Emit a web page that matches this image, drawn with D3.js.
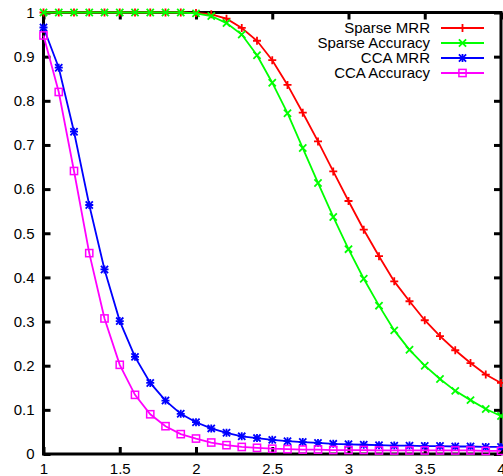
<!DOCTYPE html>
<html>
<head>
<meta charset="utf-8">
<script src="https://cdn.jsdelivr.net/npm/d3@7"></script>
<style>
html,body{margin:0;padding:0;background:#fff;overflow:hidden;}
svg{display:block;}
text{font-family:"Liberation Sans",Arial,Helvetica,sans-serif;font-size:15px;fill:#000;}
</style>
</head>
<body>
<svg id="chart" width="503" height="476"></svg>
<script>
const xValues = [1.0,1.1,1.2,1.3,1.4,1.5,1.6,1.7,1.8,1.9,2.0,2.1,2.2,2.3,2.4,2.5,2.6,2.7,2.8,2.9,3.0,3.1,3.2,3.3,3.4,3.5,3.6,3.7,3.8,3.9,4.0];
const sparseMRR = [1,1,1,1,1,1,1,1,1,1,0.999,0.996,0.986,0.965,0.936,0.892,0.836,0.773,0.708,0.640,0.573,0.508,0.448,0.391,0.346,0.303,0.267,0.235,0.206,0.180,0.161];
const sparseAcc = [1,1,1,1,1,1,1,1,1,1,0.998,0.992,0.976,0.950,0.903,0.841,0.772,0.693,0.614,0.537,0.464,0.397,0.336,0.280,0.236,0.200,0.170,0.143,0.122,0.102,0.086];
const ccaMRR = [0.966,0.875,0.730,0.564,0.418,0.301,0.220,0.161,0.121,0.091,0.072,0.058,0.048,0.040,0.036,0.032,0.029,0.027,0.025,0.023,0.022,0.021,0.020,0.019,0.019,0.018,0.018,0.017,0.017,0.016,0.016];
const ccaAcc = [0.948,0.820,0.641,0.455,0.307,0.202,0.134,0.090,0.063,0.045,0.035,0.026,0.020,0.016,0.014,0.012,0.011,0.010,0.010,0.009,0.009,0.009,0.008,0.008,0.008,0.008,0.008,0.008,0.008,0.007,0.007];
const xTicks = [1,1.5,2,2.5,3,3.5,4];
const yTicks = [0,0.1,0.2,0.3,0.4,0.5,0.6,0.7,0.8,0.9,1];
const seriesNames = ["Sparse MRR","Sparse Accuracy","CCA MRR","CCA Accuracy"];
const seriesColors = ["#ff0000","#00ff00","#0000ff","#ff00ff"];
const seriesMarkers = ["plus","cross","star","square"];
const seriesValues = [sparseMRR, sparseAcc, ccaMRR, ccaAcc];

const svg = d3.select("#chart");
const pLeft = 43.5, pRight = 501, pTop = 12.5, pBottom = 454;
const x = d3.scaleLinear().domain([1,4]).range([pLeft,pRight]);
const y = d3.scaleLinear().domain([0,1]).range([pBottom,pTop]);

svg.append("rect").attr("x",pLeft).attr("y",pTop).attr("width",pRight-pLeft).attr("height",pBottom-pTop)
  .attr("fill","none").attr("stroke","#000").attr("stroke-width",3);

const tickLen = 7;
const yAxisL = d3.axisLeft(y).tickValues(yTicks).tickSize(-tickLen).tickPadding(9).tickFormat(d3.format("~g"));
const gl = svg.append("g").attr("transform",`translate(${pLeft},0)`).call(yAxisL);
gl.select(".domain").remove();
gl.selectAll(".tick line").attr("stroke","#000").attr("stroke-width",3);
gl.selectAll(".tick text").attr("font-size",15).attr("font-family",null);

const yAxisR = d3.axisRight(y).tickValues(yTicks).tickSize(-tickLen).tickFormat("");
const gr = svg.append("g").attr("transform",`translate(${pRight},0)`).call(yAxisR);
gr.select(".domain").remove();
gr.selectAll(".tick line").attr("stroke","#000").attr("stroke-width",3);

const xAxisB = d3.axisBottom(x).tickValues(xTicks).tickSize(-tickLen).tickPadding(9).tickFormat(d3.format("~g"));
const gb = svg.append("g").attr("transform",`translate(0,${pBottom})`).call(xAxisB);
gb.select(".domain").remove();
gb.selectAll(".tick line").attr("stroke","#000").attr("stroke-width",3);
gb.selectAll(".tick text").attr("font-size",15).attr("font-family",null);

const xAxisT = d3.axisTop(x).tickValues(xTicks).tickSize(-tickLen).tickFormat("");
const gt = svg.append("g").attr("transform",`translate(0,${pTop})`).call(xAxisT);
gt.select(".domain").remove();
gt.selectAll(".tick line").attr("stroke","#000").attr("stroke-width",3);

function marker(g, type, cx, cy, color){
  const s = 4;
  if(type==="plus"||type==="star"){
    g.append("path").attr("d",`M${cx-s},${cy}H${cx+s}M${cx},${cy-s}V${cy+s}`)
      .attr("stroke",color).attr("stroke-width",1.8).attr("fill","none");
  }
  if(type==="cross"||type==="star"){
    const c = s*0.9;
    g.append("path").attr("d",`M${cx-c},${cy-c}L${cx+c},${cy+c}M${cx-c},${cy+c}L${cx+c},${cy-c}`)
      .attr("stroke",color).attr("stroke-width",1.8).attr("fill","none");
  }
  if(type==="square"){
    g.append("rect").attr("x",cx-3.6).attr("y",cy-3.6).attr("width",7.2).attr("height",7.2)
      .attr("stroke",color).attr("stroke-width",1.5).attr("fill","none");
  }
}

const line = d3.line().x(d=>x(d[0])).y(d=>y(d[1]));
seriesValues.forEach((vals,i)=>{
  const pts = xValues.map((xv,j)=>[xv, vals[j]]);
  const g = svg.append("g");
  g.append("path").datum(pts).attr("d",line).attr("fill","none")
    .attr("stroke",seriesColors[i]).attr("stroke-width",1.8);
  pts.forEach(p=>marker(g, seriesMarkers[i], x(p[0]), y(p[1]), seriesColors[i]));
});

const lg = svg.append("g");
seriesNames.forEach((name,i)=>{
  const ly = 28 + i*15;
  lg.append("text").attr("x",430).attr("y",ly).attr("dy","0.35em").attr("text-anchor","end").text(name);
  lg.append("line").attr("x1",441).attr("x2",484).attr("y1",ly).attr("y2",ly)
    .attr("stroke",seriesColors[i]).attr("stroke-width",1.8);
  marker(lg, seriesMarkers[i], 462.5, ly, seriesColors[i]);
});
</script>
</body>
</html>
